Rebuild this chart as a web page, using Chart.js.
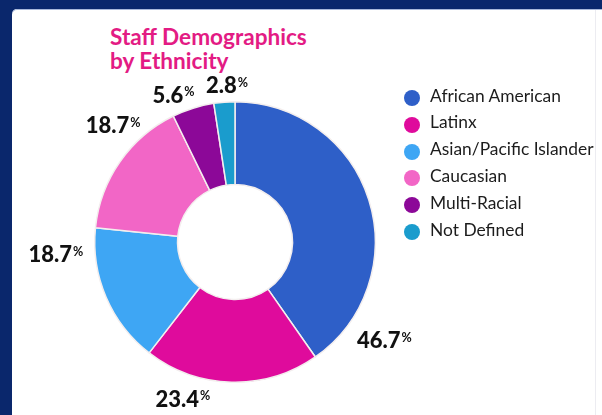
<!DOCTYPE html>
<html><head><meta charset="utf-8">
<script src="https://cdn.jsdelivr.net/npm/chart.js@4.4.1/dist/chart.umd.min.js"></script>
<style>
html,body{margin:0;padding:0;width:602px;height:415px;overflow:hidden;background:#0a276c;}
#panel{position:absolute;left:12px;top:9px;right:0;bottom:0;background:#fff;border-top-left-radius:5px;box-shadow:inset 0 1px 0 #a9b8da;}
#edge{position:absolute;left:595px;top:10px;width:1px;bottom:0;background:#ececf1;}
#title{position:absolute;left:110px;top:25px;font:700 22.6px Lato,sans-serif;color:#e31b84;line-height:24px;white-space:nowrap;}
canvas{position:absolute;left:0;top:0;}
.lg{position:absolute;left:404px;height:26.8px;line-height:26.8px;font:400 17.4px Lato,sans-serif;color:#1c1c1c;white-space:nowrap;}
.lg i{position:absolute;left:0;top:5.4px;width:16px;height:16px;border-radius:50%;}
.lg span{position:absolute;left:26px;top:0;}
</style>
</head><body>
<div id="panel"></div><div id="edge"></div>
<div id="title">Staff Demographics<br>by Ethnicity</div>
<canvas id="c" width="602" height="415"></canvas>
<div id="legend"></div>
<script>
const categories = ['African American','Latinx','Asian/Pacific Islander','Caucasian','Multi-Racial','Not Defined'];
const shares = [46.7, 23.4, 18.7, 18.7, 5.6, 2.8];
const pctLabels = ['46.7','23.4','18.7','18.7','5.6','2.8'];
const colors = ['#2e5fc8','#df0b9c','#3ea6f4','#f266c6','#8c0898','#1a9ccd'];
// label anchor: angle (deg, clockwise from top) and distance as a multiple of outer radius
const labelAnchors = [
  {angle:123.4, r:1.275},{angle:198.4, r:1.177},{angle:266, r:1.28},
  {angle:313.8, r:1.204},{angle:337.3, r:1.138},{angle:357.1, r:1.118}
];

const legend = document.getElementById('legend');
categories.forEach((c,i)=>{
  const d = document.createElement('div');
  d.className='lg';
  d.style.top = (98 + i*26.8 - 13.4) + 'px';
  d.innerHTML = '<i style="background:'+colors[i]+'"></i><span>'+c+'</span>';
  legend.appendChild(d);
});

const pctPlugin = {
  id:'pctLabels',
  afterDatasetsDraw(chart, args, opts){
    const ctx = chart.ctx;
    const meta = chart.getDatasetMeta(0);
    meta.data.forEach((arc,i)=>{
      const p = arc.getProps(['x','y','outerRadius'], true);
      const a = opts.anchors[i];
      const ang = (a.angle - 90) * Math.PI/180;
      const cx = p.x + Math.cos(ang)*p.outerRadius*a.r;
      const cy = p.y + Math.sin(ang)*p.outerRadius*a.r;
      ctx.save();
      ctx.fillStyle = '#111';
      ctx.textBaseline = 'alphabetic';
      ctx.textAlign = 'left';
      ctx.font = '900 22px Lato, sans-serif';
      const num = opts.texts[i];
      const wN = ctx.measureText(num).width;
      ctx.font = '700 12.5px Lato, sans-serif';
      const wP = ctx.measureText('%').width;
      const total = wN + 1 + wP;
      const x0 = cx - total/2;
      const capH = 0.72*22;
      ctx.font = '900 22px Lato, sans-serif';
      ctx.fillText(num, x0, cy + capH/2);
      ctx.font = '700 12.5px Lato, sans-serif';
      ctx.fillText('%', x0 + wN + 1, cy - capH/2 + 0.72*12.5 + 0.5);
      ctx.restore();
    });
  }
};

new Chart(document.getElementById('c'), {
  type:'doughnut',
  data:{
    labels: categories,
    datasets:[{
      data: shares,
      backgroundColor: colors,
      borderColor:'#f3eeee',
      borderWidth:1.5,
      hoverOffset:0,
      offset:0
    }]
  },
  options:{
    responsive:false,
    animation:false,
    cutout:'41%',
    layout:{padding:{left:94,right:226,top:101,bottom:32}},
    plugins:{
      legend:{display:false},
      tooltip:{enabled:false},
      title:{display:false},
      pctLabels:{anchors:labelAnchors, texts:pctLabels}
    }
  },
  plugins:[pctPlugin]
});
</script>
</body></html>
